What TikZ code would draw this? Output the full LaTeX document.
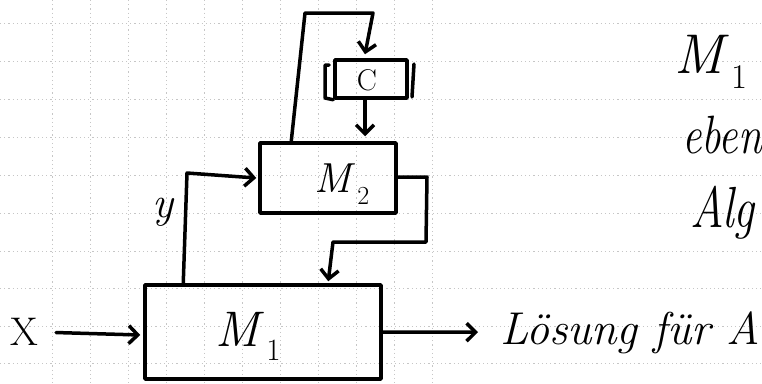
\documentclass[tikz,border=0pt]{standalone}
\usepackage{fontspec}
\usetikzlibrary{arrows.meta,calc}
\newcommand{\Msub}[2]{{\itshape #1\/}\kern0.04em\raisebox{-0.28em}{\scalebox{0.62}{#2}}}
\begin{document}
\begin{tikzpicture}[x=1pt,y=-1pt,
  pen/.style={line width=3.5pt, line join=round, line cap=round},
  arr/.style={pen, -{Straight Barb[length=9pt,width=18pt]}},
  box/.style={draw, pen, rectangle, inner sep=0pt},
  gridln/.style={gray!45, line width=0.7pt, dash pattern=on 1.2pt off 3pt},
  txt/.style={inner sep=0pt}
]
\useasboundingbox (0,0) rectangle (762,383);
\begin{scope}
\clip (0,0) rectangle (762,383);
% grid paper
\foreach \yy in {23,61,99,137,175,213,251,288,326,363}
  \draw[gridln] (0,\yy) -- (762,\yy);
\foreach \xx in {52,90,128,166,204,242,280,318,356,394,432}
  \draw[gridln] (\xx,0) -- (\xx,383);

% boxes
\node[box, minimum width=236pt, minimum height=94pt] (M1) at (263,332) {};
\node[box, minimum width=136pt, minimum height=70pt] (M2) at (328,178) {};
\node[box, minimum width=72pt, minimum height=38pt] (C) at (371,79) {};

% labels in boxes
\node[txt, font=\fontsize{50}{54}\selectfont] (M1t) at (248,336) {\Msub{M}{1}};
\node[txt, font=\fontsize{42}{46}\selectfont] (M2t) at (342,184) {\Msub{M}{2}};
\node[txt, font=\fontsize{30}{34}\selectfont] (Ct) at (367,80) {C};

% brackets around C
\draw[pen] (329,65) -- (325,65) -- (325,98) -- (C.south west);
\draw[pen] (414,64) -- (412,97);

% other texts
\node[txt, font=\fontsize{40}{44}\selectfont] (X) at (24,332) {X};
\node[txt, font=\fontsize{44}{48}\selectfont\itshape] (Y) at (163,212) {y};
\node[txt, anchor=base west, font=\fontsize{46}{50}\selectfont\itshape] (L) at (500,344) {Lösung für A};
\node[txt, anchor=base west, font=\fontsize{56}{60}\selectfont] (R1) at (674,73) {\Msub{M}{1}};
\node[txt, anchor=base west, xscale=0.8, font=\fontsize{54}{58}\selectfont\itshape] (R2) at (682,153) {eben};
\node[txt, anchor=base west, xscale=0.8, font=\fontsize{58}{62}\selectfont\itshape] (R3) at (690,227) {Alg};

% connectors
\coordinate (cl) at ($(M2.north west)+(33,0)$);
\coordinate (cl1) at (305,13);
\coordinate (cl2) at (373,13);
\draw[arr] (cl) -- (cl1) -- (cl2) -- ($(C.north)+(-6,-4)$);

\coordinate (cs) at ($(C.south)+(-6,0)$);
\draw[arr, shorten >=5pt] (cs) -- (cs |- M2.north);

\coordinate (ya) at ($(M1.north west)+(40,0)$);
\coordinate (yb) at (187,173);
\draw[arr] (ya) -- (yb) -- ($(M2.west)+(-2,0)$);

\coordinate (fa) at ($(M2.east)+(0,-1)$);
\coordinate (fb) at (427,177);
\coordinate (fc) at (426,242);
\coordinate (fd) at (333,242);
\coordinate (fe) at ($(M1.north west)+(185,-2)$);
\draw[arr] (fa) -- (fb) -- (fc) -- (fd) -- (fe);

\draw[arr, shorten <=18pt] (X.east) -- ($(M1.west)+(-3,3)$);
\draw[arr, shorten >=22pt] (M1.east) -- (L.west);
\end{scope}
\end{tikzpicture}
\end{document}
